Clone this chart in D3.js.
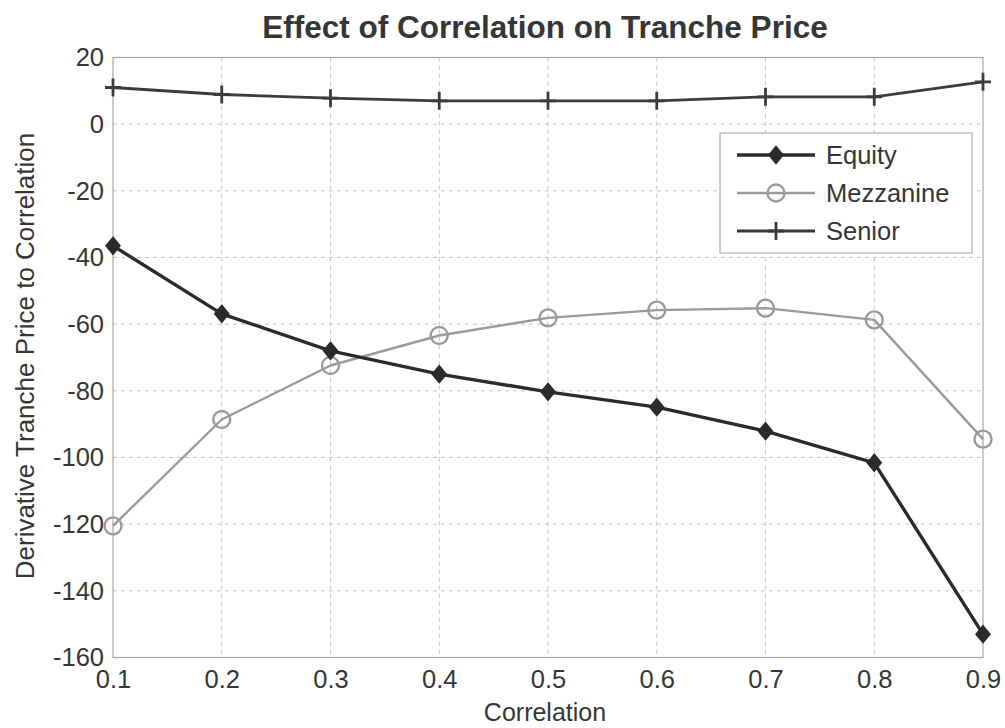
<!DOCTYPE html>
<html>
<head>
<meta charset="utf-8">
<script src="https://cdn.jsdelivr.net/npm/d3@7"></script>
<style>
  html, body { margin: 0; padding: 0; background: #fff; }
  svg { display: block; font-family: "Liberation Sans", Arial, Helvetica, sans-serif; }
</style>
</head>
<body>
<svg id="chart" width="1005" height="728"></svg>
<script>
// Correlation levels on the x axis
const correlation = [0.1, 0.2, 0.3, 0.4, 0.5, 0.6, 0.7, 0.8, 0.9];

// Derivative of tranche price with respect to correlation
const equity    = [-36.5, -56.9, -68.0, -75.0, -80.3, -84.9, -92.1, -101.6, -153.0];
const mezzanine = [-120.5, -88.6, -72.4, -63.4, -58.1, -55.8, -55.2, -58.7, -94.5];
const senior    = [11.0, 8.9, 7.8, 7.0, 7.0, 7.0, 8.2, 8.2, 12.7];

const xTicks = [0.1, 0.2, 0.3, 0.4, 0.5, 0.6, 0.7, 0.8, 0.9];
const yTicks = [20, 0, -20, -40, -60, -80, -100, -120, -140, -160];

const seriesNames = ["Equity", "Mezzanine", "Senior"];

const svg = d3.select("#chart");
const plot = { left: 113, right: 983, top: 57.5, bottom: 657.5 };

const x = d3.scaleLinear().domain([0.1, 0.9]).range([plot.left, plot.right]);
const y = d3.scaleLinear().domain([-160, 20]).range([plot.bottom, plot.top]);

const textColor = "#363636";
const gridColor = "#c4c4c4";

// grid lines
const g = svg.append("g");
g.selectAll(".vgrid").data(xTicks.slice(1, -1)).join("line")
  .attr("x1", d => x(d)).attr("x2", d => x(d))
  .attr("y1", plot.top).attr("y2", plot.bottom)
  .attr("stroke", gridColor).attr("stroke-width", 1).attr("stroke-dasharray", "4,4");
g.selectAll(".hgrid").data(yTicks.slice(1, -1)).join("line")
  .attr("x1", plot.left).attr("x2", plot.right)
  .attr("y1", d => y(d)).attr("y2", d => y(d))
  .attr("stroke", gridColor).attr("stroke-width", 1).attr("stroke-dasharray", "4,4");

// plot frame
svg.append("rect")
  .attr("x", plot.left).attr("y", plot.top)
  .attr("width", plot.right - plot.left).attr("height", plot.bottom - plot.top)
  .attr("fill", "none").attr("stroke", "#a8a8a8").attr("stroke-width", 1.2);

// axes (labels only; the frame carries the lines)
const xAxis = d3.axisBottom(x).tickValues(xTicks).tickSize(0).tickPadding(12)
  .tickFormat(d3.format(".1f"));
const yAxis = d3.axisLeft(y).tickValues(yTicks).tickSize(0).tickPadding(9)
  .tickFormat(d3.format("d"));

const gx = svg.append("g").attr("transform", `translate(0,${plot.bottom})`).call(xAxis);
const gy = svg.append("g").attr("transform", `translate(${plot.left},0)`).call(yAxis);
[gx, gy].forEach(a => {
  a.select(".domain").remove();
  a.selectAll("text").attr("fill", textColor).style("font-size", "25.5px")
    .style("font-family", "'Liberation Sans', Arial, sans-serif");
});
gy.selectAll("text").text(d => d < 0 ? "-" + Math.abs(d) : d);

// titles
svg.append("text")
  .attr("x", 545).attr("y", 38).attr("text-anchor", "middle")
  .attr("fill", textColor).style("font-size", "31.5px").style("font-weight", "bold")
  .text("Effect of Correlation on Tranche Price");

svg.append("text")
  .attr("x", 545).attr("y", 721).attr("text-anchor", "middle")
  .attr("fill", textColor).style("font-size", "25px")
  .text("Correlation");

svg.append("text")
  .attr("transform", "translate(34,356) rotate(-90)")
  .attr("text-anchor", "middle")
  .attr("fill", textColor).style("font-size", "26px")
  .text("Derivative Tranche Price to Correlation");

// series styles
const styles = {
  Equity:    { values: equity,    color: "#2b2b2b", width: 3.4, marker: "diamond" },
  Mezzanine: { values: mezzanine, color: "#9b9b9b", width: 2.4, marker: "circle" },
  Senior:    { values: senior,    color: "#3c3c3c", width: 2.8, marker: "plus" }
};

function drawMarker(sel, type, color) {
  if (type === "diamond") {
    sel.append("path").attr("d", "M0,-8.5 L7,0 L0,8.5 L-7,0 Z")
      .attr("fill", color).attr("stroke", color).attr("stroke-width", 1.5);
  } else if (type === "circle") {
    sel.append("circle").attr("r", 8.5)
      .attr("fill", "none").attr("stroke", color).attr("stroke-width", 2.4);
  } else {
    sel.append("path").attr("d", "M0,-9 V9 M-8,0 H8")
      .attr("stroke", color).attr("stroke-width", 2.8).attr("fill", "none");
  }
}

const line = d3.line().x(d => x(d[0])).y(d => y(d[1]));

// draw in order: Senior, Mezzanine, Equity (Equity on top)
["Senior", "Mezzanine", "Equity"].forEach(name => {
  const s = styles[name];
  const pts = correlation.map((c, i) => [c, s.values[i]]);
  svg.append("path").datum(pts)
    .attr("d", line).attr("fill", "none")
    .attr("stroke", s.color).attr("stroke-width", s.width)
    .attr("stroke-linejoin", "round");
  svg.append("g").selectAll("g").data(pts).join("g")
    .attr("transform", d => `translate(${x(d[0])},${y(d[1])})`)
    .each(function () { drawMarker(d3.select(this), s.marker, s.color); });
});

// legend
const legend = svg.append("g");
legend.append("rect")
  .attr("x", 720).attr("y", 133).attr("width", 252).attr("height", 120)
  .attr("fill", "#fff").attr("stroke", "#b0b0b0").attr("stroke-width", 1.2);

seriesNames.forEach((name, i) => {
  const s = styles[name];
  const ly = 155 + i * 38;
  legend.append("line")
    .attr("x1", 737).attr("x2", 815).attr("y1", ly).attr("y2", ly)
    .attr("stroke", s.color).attr("stroke-width", s.width);
  const m = legend.append("g").attr("transform", `translate(776,${ly})`);
  drawMarker(m, s.marker, s.color);
  legend.append("text")
    .attr("x", 826).attr("y", ly).attr("dy", "0.35em")
    .attr("fill", textColor).style("font-size", "25.5px")
    .text(name);
});
</script>
</body>
</html>
